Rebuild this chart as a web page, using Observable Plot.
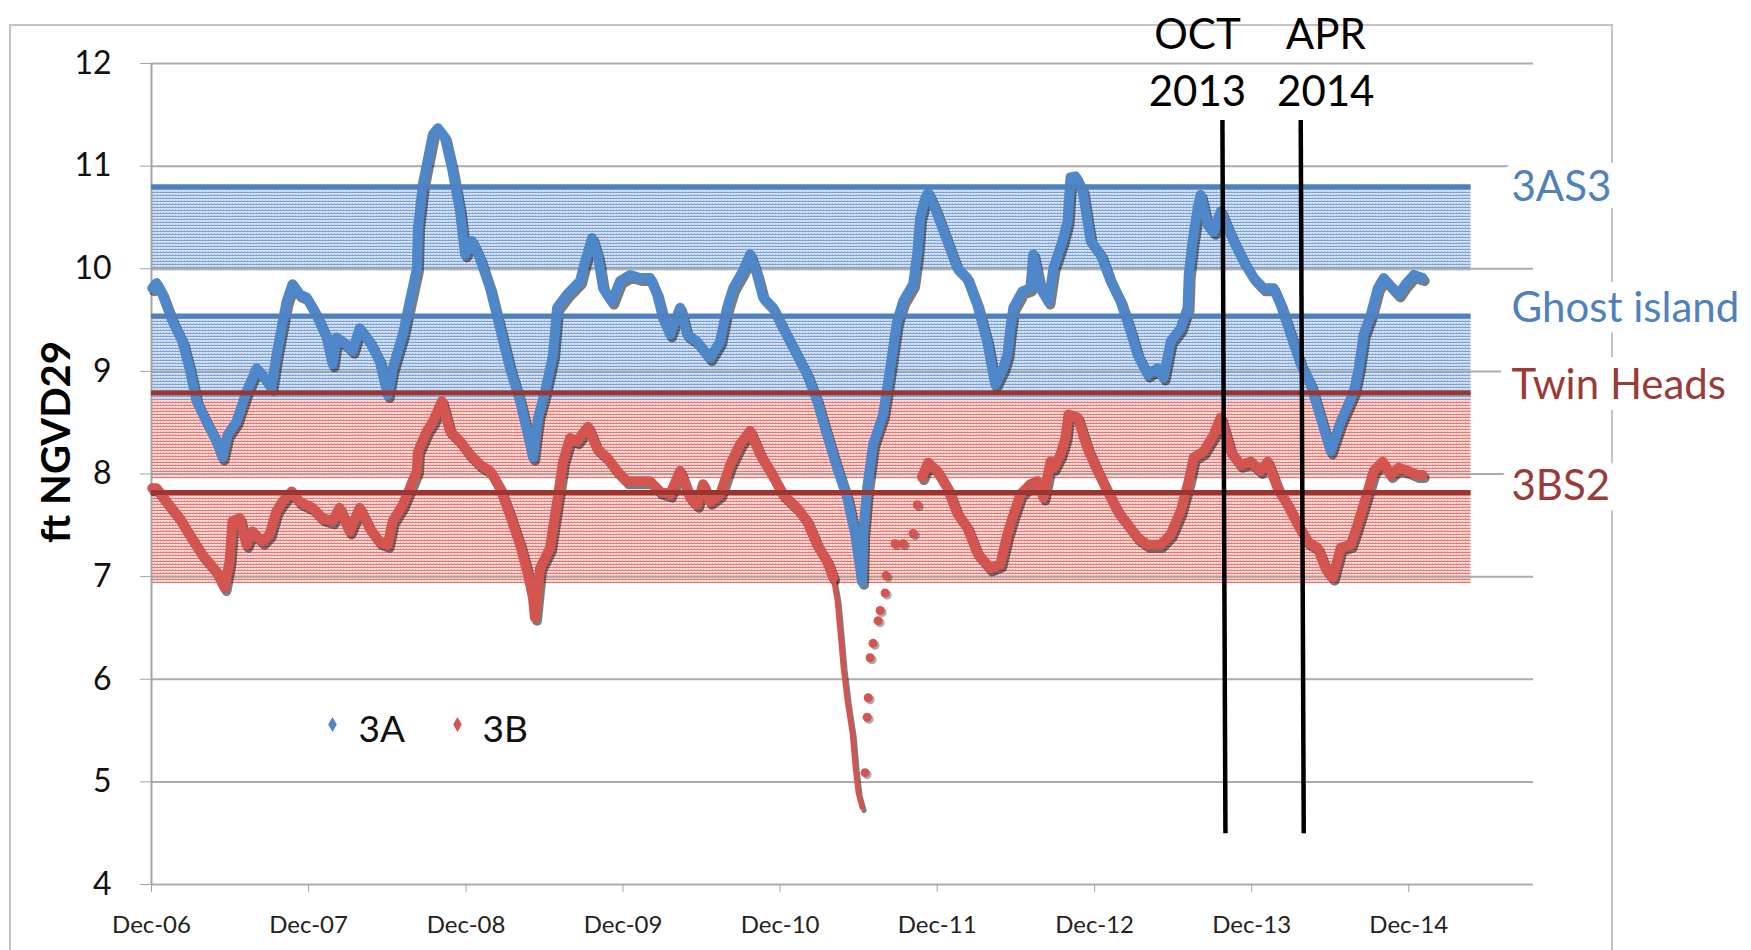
<!DOCTYPE html>
<html>
<head>
<meta charset="utf-8">
<script src="https://cdn.jsdelivr.net/npm/d3@7"></script>
<script src="https://cdn.jsdelivr.net/npm/@observablehq/plot@0.6"></script>
<style>
  html, body { margin: 0; padding: 0; background: #fff; overflow: hidden; }
  #wrap { position: relative; width: 1751px; height: 950px; overflow: hidden; font-family: Lato, sans-serif; }
  #frame { position: absolute; left: 9px; top: 24px; width: 1604px; height: 1000px; border: 2px solid #c4c4c4; box-sizing: border-box; }
  #chart { position: absolute; left: 0; top: 0; }
</style>
</head>
<body>
<div id="wrap"><div id="frame"></div><div id="chart"></div></div>
<script>
// ---------- DATA ----------
// 3A stage, ft NGVD29 (time as decimal year)
const t3A = [2006.92,2006.947,2006.985,2007.049,2007.112,2007.157,2007.202,2007.265,2007.329,2007.367,2007.399,2007.456,2007.520,2007.584,2007.635,2007.679,2007.711,2007.775,2007.813,2007.858,2007.902,2007.966,2008.030,2008.068,2008.093,2008.157,2008.195,2008.240,2008.304,2008.367,2008.418,2008.450,2008.514,2008.558,2008.603,2008.610,2008.641,2008.705,2008.737,2008.781,2008.826,2008.877,2008.909,2008.953,2009.004,2009.068,2009.132,2009.195,2009.259,2009.310,2009.342,2009.374,2009.418,2009.469,2009.495,2009.558,2009.641,2009.673,2009.718,2009.756,2009.788,2009.845,2009.896,2009.960,2010.023,2010.087,2010.132,2010.170,2010.214,2010.278,2010.323,2010.386,2010.469,2010.533,2010.577,2010.616,2010.679,2010.724,2010.769,2010.807,2010.870,2010.934,2011.023,2011.087,2011.151,2011.214,2011.278,2011.342,2011.393,2011.425,2011.437,2011.444,2011.469,2011.507,2011.571,2011.616,2011.660,2011.698,2011.762,2011.788,2011.807,2011.839,2011.858,2011.902,2011.979,2012.042,2012.106,2012.170,2012.233,2012.284,2012.335,2012.361,2012.380,2012.399,2012.456,2012.507,2012.526,2012.571,2012.622,2012.654,2012.711,2012.743,2012.762,2012.794,2012.839,2012.890,2012.953,2013.017,2013.081,2013.144,2013.189,2013.253,2013.316,2013.354,2013.399,2013.463,2013.507,2013.514,2013.539,2013.571,2013.590,2013.635,2013.673,2013.718,2013.762,2013.800,2013.864,2013.928,2013.991,2014.055,2014.100,2014.163,2014.227,2014.291,2014.354,2014.418,2014.482,2014.565,2014.597,2014.628,2014.673,2014.718,2014.756,2014.813,2014.851,2014.896,2014.947,2015.004];
const v3A = [9.81,9.86,9.75,9.49,9.29,9.03,8.71,8.51,8.32,8.16,8.38,8.51,8.80,9.03,8.94,8.84,9.16,9.68,9.85,9.75,9.72,9.55,9.33,9.07,9.33,9.26,9.20,9.42,9.29,9.10,8.77,9.03,9.36,9.68,10.00,10.40,10.82,11.31,11.37,11.28,10.98,10.56,10.14,10.27,10.10,9.81,9.42,9.03,8.71,8.38,8.16,8.55,8.80,9.16,9.62,9.75,9.88,10.07,10.30,10.11,9.81,9.68,9.88,9.94,9.91,9.91,9.75,9.52,9.36,9.62,9.36,9.29,9.13,9.29,9.62,9.81,9.98,10.14,9.94,9.72,9.62,9.42,9.16,8.97,8.71,8.38,8.06,7.77,7.41,7.08,6.95,7.41,7.86,8.29,8.58,9.03,9.49,9.68,9.85,10.14,10.50,10.69,10.74,10.59,10.27,10.01,9.91,9.65,9.29,8.87,9.03,9.16,9.42,9.62,9.78,9.81,10.14,9.81,9.68,10.01,10.27,10.46,10.89,10.90,10.76,10.27,10.14,9.88,9.68,9.39,9.16,8.97,9.03,8.94,9.29,9.42,9.62,9.94,10.27,10.59,10.72,10.43,10.36,10.56,10.40,10.27,10.07,9.91,9.81,9.81,9.65,9.36,9.07,8.87,8.55,8.22,8.51,8.80,9.03,9.36,9.55,9.81,9.91,9.81,9.75,9.85,9.94,9.91];

// 3B stage, ft NGVD29
const t3B = [2006.92,2006.947,2007.011,2007.093,2007.157,2007.240,2007.329,2007.380,2007.412,2007.431,2007.476,2007.520,2007.558,2007.622,2007.667,2007.711,2007.749,2007.807,2007.858,2007.940,2008.004,2008.068,2008.112,2008.176,2008.240,2008.304,2008.367,2008.418,2008.450,2008.514,2008.558,2008.603,2008.610,2008.667,2008.705,2008.762,2008.813,2008.877,2008.940,2009.004,2009.068,2009.132,2009.195,2009.259,2009.310,2009.342,2009.354,2009.386,2009.450,2009.495,2009.533,2009.577,2009.622,2009.692,2009.749,2009.813,2009.877,2009.940,2010.004,2010.087,2010.151,2010.214,2010.278,2010.342,2010.386,2010.425,2010.469,2010.533,2010.597,2010.660,2010.724,2010.788,2010.851,2010.934,2011.023,2011.087,2011.151,2011.214,2011.253,2011.278,2011.297,2011.316,2011.342,2011.374,2011.393,2011.412,2011.437,2011.456,2011.469,2011.476,2011.488,2011.507,2011.539,2011.552,2011.584,2011.590,2011.647,2011.698,2011.762,2011.788,2011.819,2011.858,2011.915,2011.979,2012.042,2012.106,2012.170,2012.253,2012.316,2012.361,2012.399,2012.444,2012.507,2012.552,2012.590,2012.635,2012.654,2012.698,2012.730,2012.749,2012.807,2012.870,2012.934,2012.998,2013.061,2013.125,2013.189,2013.253,2013.335,2013.399,2013.463,2013.514,2013.546,2013.609,2013.673,2013.718,2013.781,2013.845,2013.909,2013.972,2014.017,2014.081,2014.144,2014.208,2014.272,2014.335,2014.386,2014.431,2014.482,2014.546,2014.590,2014.654,2014.692,2014.749,2014.800,2014.851,2014.909,2014.972,2015.004];
const v3B = [7.86,7.86,7.73,7.57,7.41,7.21,7.05,6.89,7.15,7.54,7.57,7.31,7.44,7.34,7.41,7.64,7.73,7.83,7.73,7.67,7.57,7.54,7.67,7.44,7.67,7.47,7.34,7.31,7.54,7.70,7.86,8.03,8.22,8.42,8.51,8.71,8.42,8.32,8.19,8.09,8.03,7.86,7.60,7.31,7.02,6.79,6.60,7.08,7.28,7.73,8.12,8.35,8.32,8.46,8.25,8.16,8.03,7.93,7.93,7.93,7.83,7.80,8.03,7.77,7.70,7.90,7.73,7.80,8.09,8.29,8.42,8.19,8.03,7.80,7.67,7.54,7.31,7.15,6.99,6.77,6.45,6.12,5.79,5.47,5.14,4.89,4.75,5.09,5.63,5.82,6.21,6.35,6.57,6.67,6.84,7.01,7.32,7.32,7.42,7.70,7.97,8.11,8.03,7.87,7.62,7.48,7.23,7.08,7.12,7.41,7.60,7.80,7.90,7.93,7.77,8.12,8.06,8.19,8.35,8.58,8.55,8.25,8.03,7.83,7.64,7.51,7.38,7.31,7.31,7.41,7.64,7.93,8.16,8.22,8.38,8.55,8.22,8.09,8.12,8.03,8.12,7.86,7.70,7.51,7.34,7.28,7.08,6.99,7.28,7.31,7.51,7.83,8.03,8.12,7.99,8.06,8.03,7.99,7.99];

// reference levels
const levelNames  = ["3AS3", "Ghost island", "Twin Heads", "3BS2"];
const levelValues = [10.8, 9.54, 8.79, 7.82];
const bandBottoms = [9.98, 8.72, 7.95, 6.93];
const levelArea   = ["3A", "3A", "3B", "3B"];

// events
const eventLabels = ["OCT\n2013", "APR\n2014"];
const eventDates  = ["2013-10-01", "2014-04-01"];

// axes
const xTickDates  = ["2006-12-01","2007-12-01","2008-12-01","2009-12-01","2010-12-01","2011-12-01","2012-12-01","2013-12-01","2014-12-01"];
const xTickLabels = ["Dec-06","Dec-07","Dec-08","Dec-09","Dec-10","Dec-11","Dec-12","Dec-13","Dec-14"];
const yTicks = [4, 5, 6, 7, 8, 9, 10, 11, 12];
const yTitle = "ft NGVD29";
const legendNames = ["3A", "3B"];

// ---------- STYLE ----------
const seriesColor = {"3A": "#4f87cb", "3B": "#d4544f"};
const levelColor  = {"3A": "#4f81bd", "3B": "#9b3532"};
const labelColor  = {"3A": "#4f81bd", "3B": "#9b3b38"};
const bandFill    = {"3A": "url(#hatchBlue)", "3B": "url(#hatchRed)"};
const labelDy     = [1, -7, -7, -6];

const decToDate = t => {
  const y = Math.floor(t), a = Date.UTC(y, 0, 1), b = Date.UTC(y + 1, 0, 1);
  return new Date(a + (t - y) * (b - a));
};
const X0 = new Date("2006-12-01"), X1 = new Date("2015-09-17"), BAND_END = new Date("2015-04-25");

const A = t3A.map((t, i) => ({t, date: decToDate(t), value: v3A[i]}));
const B = t3B.map((t, i) => ({t, date: decToDate(t), value: v3B[i]}));
const Bmain1  = B.filter(d => d.t <= 2011.253);
const Btail   = B.filter(d => d.t >= 2011.253 && d.t <= 2011.437);
const Bsparse = B.filter(d => d.t > 2011.437 && d.t < 2011.81);
const Bmain2  = B.filter(d => d.t >= 2011.81);

const levels = levelNames.map((name, i) => ({
  name, value: levelValues[i], bottom: bandBottoms[i], area: levelArea[i],
  color: levelColor[levelArea[i]], labelColor: labelColor[levelArea[i]]
}));
const events = eventDates.map((d, i) => ({date: new Date(d), label: eventLabels[i]}));
const tickLabelOf = new Map(xTickDates.map((d, i) => [+new Date(d), xTickLabels[i]]));

const shadow = (data, w) => Plot.line(data, {x: "date", y: "value", stroke: "#111", strokeOpacity: 0.55,
  strokeWidth: w, dx: 2, dy: 3, strokeLinejoin: "round", strokeLinecap: "round"});
const line = (data, color, w) => Plot.line(data, {x: "date", y: "value", stroke: color,
  strokeWidth: w, strokeLinejoin: "round", strokeLinecap: "round"});

const bandOrder = [2, 3, 0, 1]; // red bands first, blue on top
const plot = Plot.plot({
  width: 1751, height: 950,
  marginLeft: 151, marginRight: 218, marginTop: 63, marginBottom: 66,
  style: {fontFamily: "Lato, sans-serif", background: "transparent", overflow: "visible"},
  x: {type: "utc", domain: [X0, X1]},
  y: {domain: [4, 12]},
  marks: [
    // shaded bands
    ...bandOrder.map(i => Plot.rect([levels[i]], {x1: () => X0, x2: () => BAND_END, y1: "bottom", y2: "value",
      fill: bandFill[levels[i].area]})),
    // gridlines
    Plot.ruleY(yTicks, {x1: () => X0, x2: () => X1, stroke: "#a3a3a3", strokeWidth: 2, strokeOpacity: 0.9}),
    Plot.ruleX([X0], {stroke: "#a3a3a3", strokeWidth: 2}),
    Plot.axisY({ticks: yTicks, tickSize: 11, tickPadding: 29, fontSize: 32, stroke: "#a3a3a3", fill: "#111",
      tickFormat: d => String(d), label: null}),
    Plot.axisX({ticks: xTickDates.map(d => new Date(d)), tickFormat: d => tickLabelOf.get(+d), tickSize: 8,
      tickPadding: 23, fontSize: 24, stroke: "#a3a3a3", fill: "#222", label: null}),
    // series shadows
    shadow(Bmain1, 10), shadow(Btail, 5), shadow(Bmain2, 10), shadow(A, 10),
    Plot.dot(Bsparse, {x: "date", y: "value", r: 4.5, fill: "#111", fillOpacity: 0.35, dx: 2, dy: 2}),
    // 3B
    line(Bmain1, seriesColor["3B"], 10),
    line(Btail, seriesColor["3B"], 5),
    Plot.dot(Bsparse, {x: "date", y: "value", r: 4.5, fill: seriesColor["3B"]}),
    line(Bmain2, seriesColor["3B"], 10),
    // 3A
    line(A, seriesColor["3A"], 10),
    // level lines
    Plot.ruleY(levels, {y: "value", x1: () => X0, x2: () => BAND_END, stroke: "color", strokeWidth: 5}),
    // event lines
    Plot.link(events, {x1: d => new Date(+d.date - 7 * 864e5), x2: "date", y1: () => 11.45, y2: () => 4.5,
      stroke: "black", strokeWidth: 4.5}),
    Plot.text([events[0]], {x: "date", text: "label", frameAnchor: "top", dx: -28, dy: -4.5, fontSize: 42,
      lineHeight: 1.36, lineAnchor: "middle", textAnchor: "middle", fill: "black"}),
    Plot.text([events[1]], {x: "date", text: "label", frameAnchor: "top", dx: 22, dy: -4.5, fontSize: 42,
      lineHeight: 1.36, lineAnchor: "middle", textAnchor: "middle", fill: "black"}),
    // level labels
    ...levels.map((lv, i) => Plot.text([lv], {x: () => X1, y: "value", text: "name", fill: "labelColor",
      textAnchor: "start", dx: -22, dy: labelDy[i], fontSize: 42, stroke: "white", strokeWidth: 22,
      strokeLinejoin: "round", paintOrder: "stroke"})),
    // y title
    Plot.text([yTitle], {frameAnchor: "left", dx: -94, dy: -32, rotate: -90, fontSize: 40, fontWeight: "bold",
      textAnchor: "middle", lineAnchor: "middle", fill: "black"}),
    // legend
    ...legendNames.map((name, i) => Plot.dot([name], {frameAnchor: "top-left", dx: 181 + i * 125, dy: 661,
      symbol: "diamond", r: 4.5, fill: seriesColor[name]})),
    ...legendNames.map((name, i) => Plot.text([name], {frameAnchor: "top-left", dx: 207 + i * 124, dy: 667,
      textAnchor: "start", lineAnchor: "middle", fontSize: 37, fill: "#111"}))
  ]
});

const svg = plot.tagName.toLowerCase() === "svg" ? plot : plot.querySelector("svg");
const defs = document.createElementNS("http://www.w3.org/2000/svg", "defs");
defs.innerHTML = `
<pattern id="hatchBlue" width="3" height="3" patternUnits="userSpaceOnUse">
  <rect width="3" height="3" fill="#d2e0f2"/>
  <rect width="3" height="1" fill="#7ea2d3"/>
  <rect x="1" y="2" width="1" height="1" fill="#a6c0e4"/>
</pattern>
<pattern id="hatchRed" width="3" height="3" patternUnits="userSpaceOnUse">
  <rect width="3" height="3" fill="#fad6d4"/>
  <rect width="3" height="1" fill="#e27b76"/>
  <rect x="1" y="2" width="1" height="1" fill="#f0aaa6"/>
</pattern>`;
svg.insertBefore(defs, svg.firstChild);
document.getElementById("chart").appendChild(plot);
</script>
</body>
</html>
